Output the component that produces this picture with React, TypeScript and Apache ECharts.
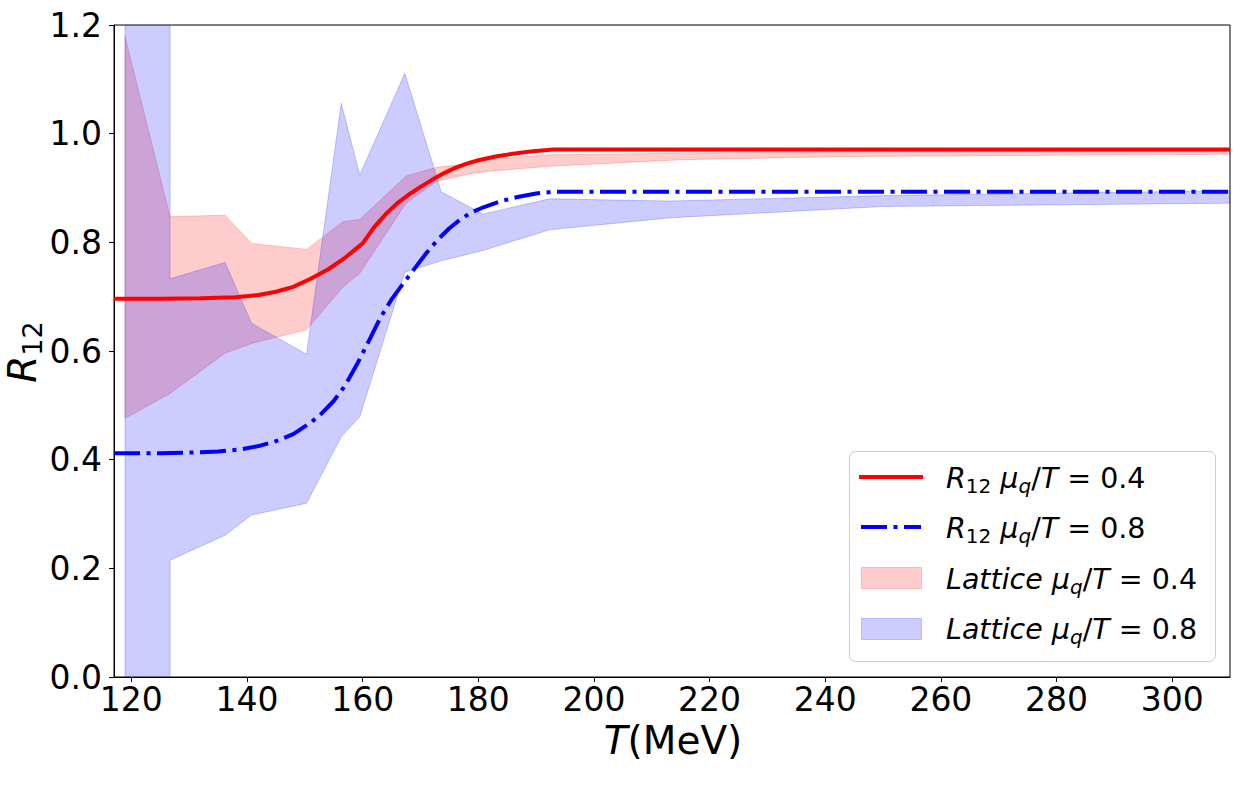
import React, { useEffect, useRef } from "react";
import * as echarts from "echarts";

// ---------- data ----------
const xTickValues = [120, 140, 160, 180, 200, 220, 240, 260, 280, 300];

// model curve R12, mu_q/T = 0.4
const redLineT = [117, 125, 132, 138, 142, 145, 148, 151, 154, 157, 160, 162, 164, 166, 168, 170, 172, 174, 176, 178, 180, 183, 186, 189, 192, 193, 310];
const redLineR = [0.696, 0.696, 0.697, 0.699, 0.703, 0.709, 0.718, 0.733, 0.75, 0.772, 0.798, 0.828, 0.852, 0.872, 0.888, 0.902, 0.915, 0.927, 0.937, 0.945, 0.951, 0.958, 0.963, 0.967, 0.97, 0.971, 0.971];

// model curve R12, mu_q/T = 0.8
const blueLineT = [117, 125, 130, 135, 139, 142, 145, 148, 151, 153, 155, 157, 159, 161, 163, 165, 167, 169, 171, 173, 175, 177, 179, 181, 184, 187, 190, 193, 310];
const blueLineR = [0.412, 0.412, 0.413, 0.415, 0.419, 0.425, 0.434, 0.447, 0.468, 0.486, 0.508, 0.537, 0.575, 0.617, 0.66, 0.695, 0.724, 0.752, 0.78, 0.805, 0.826, 0.843, 0.856, 0.865, 0.876, 0.884, 0.89, 0.893, 0.893];

// lattice band mu_q/T = 0.4
const lat04T = [118.9, 126.7, 136.2, 140.8, 150.3, 156.6, 159.5, 167.5, 172.8, 178.0, 181.0, 192.3, 215, 244, 310];
const lat04Up = [1.179, 0.847, 0.85, 0.798, 0.787, 0.838, 0.842, 0.922, 0.938, 0.944, 0.952, 0.961, 0.964, 0.967, 0.968];
const lat04Lo = [0.476, 0.522, 0.596, 0.614, 0.639, 0.718, 0.743, 0.872, 0.912, 0.925, 0.93, 0.94, 0.952, 0.958, 0.962];

// lattice band mu_q/T = 0.8 (first points run off the plot)
const lat08UpT = [118.9, 126.7, 126.7, 136.2, 140.8, 150.3, 156.3, 159.5, 167.3, 173.6, 180.8, 192.3, 213, 250, 310];
const lat08Up = [1.6, 1.6, 0.733, 0.763, 0.651, 0.594, 1.056, 0.924, 1.111, 0.893, 0.852, 0.88, 0.876, 0.886, 0.895];
const lat08LoT = [118.9, 126.7, 126.7, 136.2, 140.8, 150.3, 156.3, 159.5, 167.3, 173.6, 180.8, 192.3, 213, 250, 310];
const lat08Lo = [-0.4, -0.4, 0.215, 0.261, 0.298, 0.32, 0.442, 0.479, 0.745, 0.766, 0.785, 0.823, 0.845, 0.866, 0.872];

const FONT = "DejaVu Sans";

function bandSeries(name: string, upT: number[], up: number[], loT: number[], lo: number[], color: string) {
  return {
    type: "custom",
    name,
    z: 1,
    clip: true,
    silent: true,
    data: [[upT[0], up[0]]],
    renderItem: (params: any, api: any) => {
      const pts: number[][] = [];
      for (let i = 0; i < upT.length; i++) pts.push(api.coord([upT[i], up[i]]));
      for (let i = loT.length - 1; i >= 0; i--) pts.push(api.coord([loT[i], lo[i]]));
      const cs = params.coordSys;
      return {
        type: "polygon",
        shape: { points: pts },
        clipPath: { type: "rect", shape: { x: cs.x, y: cs.y, width: cs.width, height: cs.height } },
        style: { fill: color, stroke: color, lineWidth: 1 },
      };
    },
  };
}

const LF = 28.5;
const LS = 20;
const legRich = {
  i: { fontSize: LF, fontStyle: "italic", fontFamily: FONT, fill: "#000", lineHeight: 34 },
  n: { fontSize: LF, fontFamily: FONT, fill: "#000", lineHeight: 34 },
  s: { fontSize: LS, fontFamily: FONT, fill: "#000", lineHeight: 34, padding: [15, 0, 0, 0] },
  si: { fontSize: LS, fontStyle: "italic", fontFamily: FONT, fill: "#000", lineHeight: 34, padding: [15, 0, 0, 0] },
};

const legendTexts = [
  "{i|R}{s|12}{n| }{i|μ}{si|q}{n|/}{i|T}{n| = 0.4}",
  "{i|R}{s|12}{n| }{i|μ}{si|q}{n|/}{i|T}{n| = 0.8}",
  "{i|Lattice}{n| }{i|μ}{si|q}{n|/}{i|T}{n| = 0.4}",
  "{i|Lattice}{n| }{i|μ}{si|q}{n|/}{i|T}{n| = 0.8}",
];
const legendRowY = [477, 527, 578, 628];

export default function App() {
  const ref = useRef<HTMLDivElement>(null);
  useEffect(() => {
    document.body.style.margin = "0";
    const chart = echarts.init(ref.current!, null, { renderer: "svg" });
    const option: any = {
      animation: false,
      grid: {
        left: 114,
        right: 16,
        top: 25,
        bottom: 108,
        show: true,
        borderColor: "#000",
        borderWidth: 1,
        backgroundColor: "transparent",
        containLabel: false,
        outerBoundsMode: "none",
      },
      xAxis: {
        type: "value",
        min: 117,
        max: 310,
        axisLine: { show: true, lineStyle: { color: "#000", width: 1 } },
        axisTick: { show: true, length: 5, lineStyle: { color: "#000", width: 1 }, customValues: xTickValues },
        axisLabel: {
          show: true,
          customValues: xTickValues,
          fontSize: 33,
          fontFamily: FONT,
          color: "#000",
          margin: 6,
          formatter: (v: number) => String(v),
        },
        splitLine: { show: false },
      },
      yAxis: {
        type: "value",
        min: 0,
        max: 1.2,
        interval: 0.2,
        axisLine: { show: true, lineStyle: { color: "#000", width: 1 } },
        axisTick: { show: true, length: 5, lineStyle: { color: "#000", width: 1 } },
        axisLabel: {
          fontSize: 33,
          fontFamily: FONT,
          color: "#000",
          margin: 12,
          formatter: (v: number) => v.toFixed(1),
        },
        splitLine: { show: false },
      },
      series: [
        bandSeries("Lattice 0.4", lat04T, lat04Up, lat04T, lat04Lo, "rgba(255,0,0,0.2)"),
        bandSeries("Lattice 0.8", lat08UpT, lat08Up, lat08LoT, lat08Lo, "rgba(0,0,255,0.2)"),
        {
          type: "line",
          name: "R12 0.4",
          z: 3,
          showSymbol: false,
          symbol: "none",
          data: redLineT.map((t, i) => [t, redLineR[i]]),
          lineStyle: { color: "#ff0000", width: 4 },
        },
        {
          type: "line",
          name: "R12 0.8",
          z: 3,
          showSymbol: false,
          symbol: "none",
          data: blueLineT.map((t, i) => [t, blueLineR[i]]),
          lineStyle: { color: "#0000ff", width: 4, type: [26, 6.5, 4, 6.5], cap: "butt" },
        },
      ],
      graphic: {
        elements: [
          // axis titles
          {
            type: "text",
            x: 673,
            y: 740,
            style: {
              text: "{i|T}{n|(MeV)}",
              align: "center",
              verticalAlign: "middle",
              rich: {
                i: { fontSize: 39, fontStyle: "italic", fontFamily: FONT, fill: "#000", lineHeight: 44 },
                n: { fontSize: 39, fontFamily: FONT, fill: "#000", lineHeight: 44 },
              },
            },
          },
          {
            type: "text",
            x: 22,
            y: 352,
            rotation: Math.PI / 2,
            style: {
              text: "{i|R}{s|12}",
              align: "center",
              verticalAlign: "middle",
              rich: {
                i: { fontSize: 39, fontStyle: "italic", fontFamily: FONT, fill: "#000", lineHeight: 44 },
                s: { fontSize: 27, fontFamily: FONT, fill: "#000", lineHeight: 44, padding: [20, 0, 0, 0] },
              },
            },
          },
          // legend frame
          {
            type: "rect",
            z: 10,
            shape: { x: 849.5, y: 451.5, width: 366, height: 210, r: 6 },
            style: { fill: "rgba(255,255,255,0.8)", stroke: "#cccccc", lineWidth: 1 },
          },
          {
            type: "line",
            z: 11,
            shape: { x1: 859, y1: 477, x2: 923, y2: 477 },
            style: { stroke: "#ff0000", lineWidth: 4 },
          },
          {
            type: "line",
            z: 11,
            shape: { x1: 861, y1: 527, x2: 921, y2: 527 },
            style: { stroke: "#0000ff", lineWidth: 4, lineDash: [26, 6.5, 4, 6.5], lineCap: "butt" },
          },
          {
            type: "rect",
            z: 11,
            shape: { x: 861.5, y: 567.5, width: 60, height: 21 },
            style: { fill: "rgba(255,0,0,0.2)", stroke: "rgba(255,0,0,0.2)", lineWidth: 1 },
          },
          {
            type: "rect",
            z: 11,
            shape: { x: 861.5, y: 618.5, width: 60, height: 21 },
            style: { fill: "rgba(0,0,255,0.2)", stroke: "rgba(0,0,255,0.2)", lineWidth: 1 },
          },
          ...legendTexts.map((t, k) => ({
            type: "text",
            z: 11,
            x: 946,
            y: legendRowY[k] + 1.5,
            style: { text: t, rich: legRich, align: "left", verticalAlign: "middle" },
          })),
        ],
      },
    };
    chart.setOption(option);
    return () => chart.dispose();
  }, []);
  return <div ref={ref} style={{ width: 1246, height: 785 }} />;
}
